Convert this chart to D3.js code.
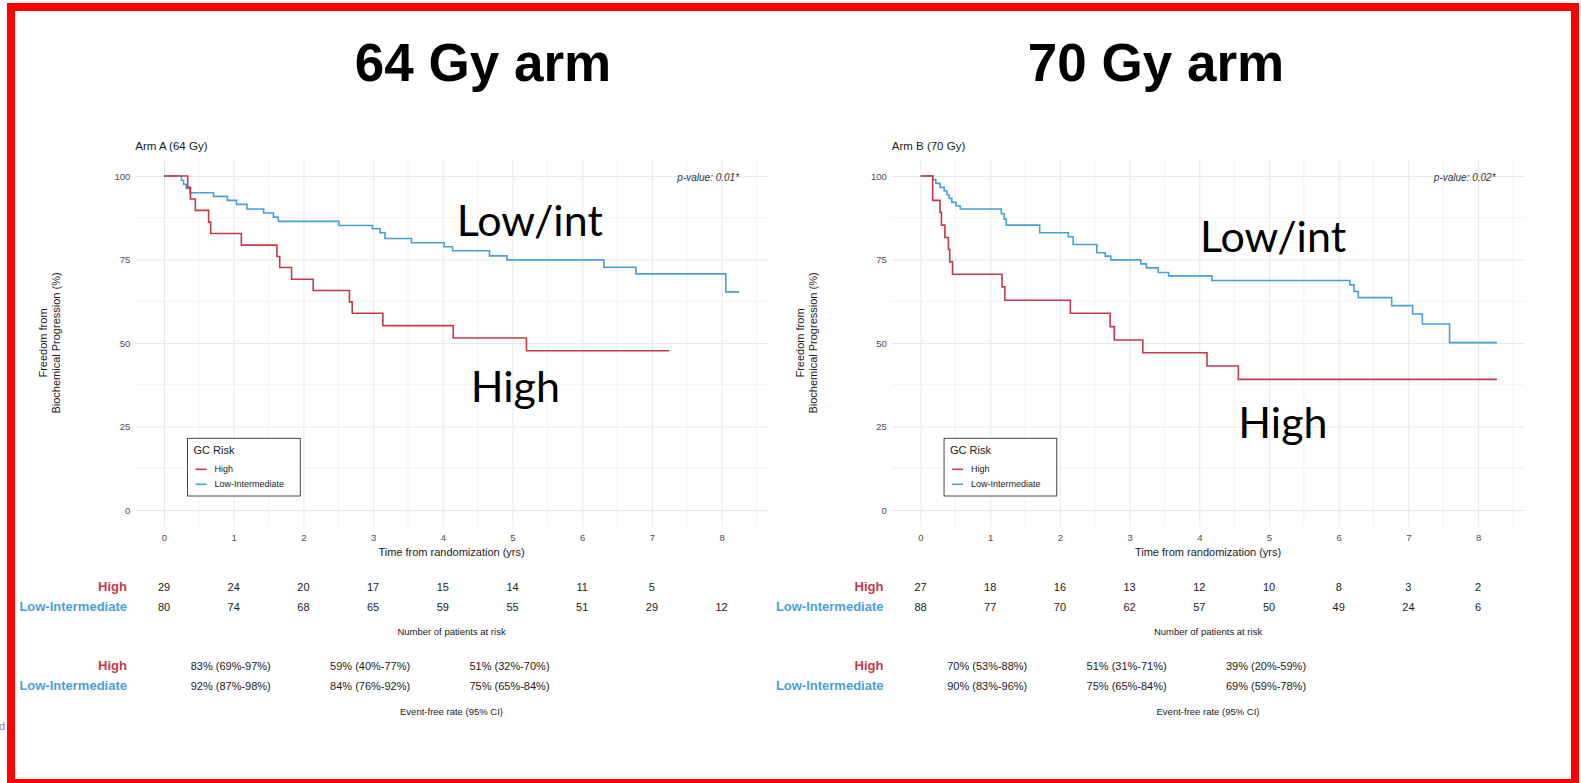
<!DOCTYPE html>
<head>
<meta charset="utf-8">
<script src="https://d3js.org/d3.v7.min.js"></script>
<style>
  body { margin: 0; background: #fff; }
  svg { display: block; }
  text { font-family: "Liberation Sans", Arial, sans-serif; }
  text.bigTitle { font-size: 53px; font-weight: 700; fill: #000; }
  text.armTitle { font-size: 11.5px; fill: #1a1a1a; }
  text.tick { font-size: 9.5px; fill: #4d4d4d; }
  text.axisTitle { font-size: 11px; fill: #1a1a1a; }
  text.pval { font-size: 10px; font-style: italic; fill: #333; }
  text.note { font-family: Lato, "Open Sans", sans-serif; font-size: 43px; fill: #000; }
  text.legTitle { font-size: 11px; fill: #1a1a1a; }
  text.legItem { font-size: 9px; fill: #1a1a1a; }
  text.tbl { font-size: 11px; fill: #1a1a1a; }
  text.tblLab { font-size: 13px; font-weight: 700; }
  text.tblCap { font-size: 9.5px; fill: #1a1a1a; }
  .grid-major { stroke: #e9e9e9; stroke-width: 1; }
  .grid-minor { stroke: #f2f2f2; stroke-width: 1; }
</style>
</head>
<body>
<div id="viz_tool"></div>
<script>
const width = 1581;
const height = 783;

const colHigh = "#c43a4c";
const colLow  = "#4a9fd6";

const timeTicks = [0, 1, 2, 3, 4, 5, 6, 7, 8];
const survTicks = [0, 25, 50, 75, 100];
const groups = ["High", "Low-Intermediate"];

// Kaplan-Meier steps: [years, % free]
const armAHigh = [[0,100],[0.34,96.6],[0.38,93.1],[0.45,89.7],[0.64,86.2],[0.67,82.8],[1.11,79.3],
  [1.62,75.9],[1.66,72.6],[1.83,69.1],[2.14,65.7],[2.66,62.3],[2.70,58.9],[3.14,55.2],
  [4.15,51.5],[5.20,47.7],[7.25,47.7]];
const armALow = [[0,100],[0.25,98.75],[0.28,97.5],[0.32,96.25],[0.37,95],[0.71,93.9],[0.91,92.7],
  [1.04,91.5],[1.19,90.1],[1.43,88.9],[1.57,87.7],[1.64,86.4],[2.51,85.2],[2.99,84.2],
  [3.10,83.0],[3.17,81.3],[3.55,80.0],[4.02,78.8],[4.14,77.6],[4.67,76.1],[4.92,74.9],
  [6.31,72.7],[6.77,70.7],[8.06,65.3],[8.25,65.3]];
const armBHigh = [[0,100],[0.175,92.7],[0.28,89.1],[0.30,85.3],[0.35,81.6],[0.40,78.0],[0.42,74.3],
  [0.46,70.6],[1.17,66.8],[1.21,62.8],[2.15,58.9],[2.72,54.9],[2.78,50.9],[3.19,47.1],
  [4.11,43.1],[4.56,39.1],[8.27,39.1]];
const armBLow = [[0,100],[0.18,98.9],[0.22,97.8],[0.28,96.6],[0.34,95.5],[0.38,94.4],[0.41,93.3],
  [0.45,92.1],[0.51,91.0],[0.57,90.1],[1.16,88.7],[1.20,87.1],[1.23,85.3],[1.71,83.0],
  [2.12,81.8],[2.19,79.5],[2.53,77.0],[2.65,76.0],[2.73,74.9],[3.16,73.7],[3.24,72.5],
  [3.41,71.1],[3.56,70.1],[4.18,68.7],[6.16,67.4],[6.22,65.4],[6.28,63.6],[6.76,61.2],
  [7.06,58.7],[7.20,55.7],[7.59,50.1],[8.27,50.1]];

// numbers at risk, one per year 0..8
const armARiskHigh = [29, 24, 20, 17, 15, 14, 11, 5, null];
const armARiskLow  = [80, 74, 68, 65, 59, 55, 51, 29, 12];
const armBRiskHigh = [27, 18, 16, 13, 12, 10, 8, 3, 2];
const armBRiskLow  = [88, 77, 70, 62, 57, 50, 49, 24, 6];

// event-free rates at 1, 3, 5 years
const efsYears = [1, 3, 5];
const armAEfsHigh = ["83% (69%-97%)", "59% (40%-77%)", "51% (32%-70%)"];
const armAEfsLow  = ["92% (87%-98%)", "84% (76%-92%)", "75% (65%-84%)"];
const armBEfsHigh = ["70% (53%-88%)", "51% (31%-71%)", "39% (20%-59%)"];
const armBEfsLow  = ["90% (83%-96%)", "75% (65%-84%)", "69% (59%-78%)"];

const svg = d3.select("#viz_tool").append("svg")
  .attr("width", width)
  .attr("height", height);

svg.append("rect")
  .attr("x", 11).attr("y", 7)
  .attr("width", 1564).attr("height", 776)
  .attr("fill", "none")
  .attr("stroke", "#ff0000")
  .attr("stroke-width", 8);

svg.append("text")
  .attr("x", -1).attr("y", 730)
  .style("font-size", "11px").style("fill", "#888")
  .text("d");

const arms = [
  { big: "64 Gy arm", bigX: 483, title: "Arm A (64 Gy)", left: 135.25, right: 767.8,
    high: armAHigh, low: armALow, pval: "p-value: 0.01*",
    riskHigh: armARiskHigh, riskLow: armARiskLow, efsHigh: armAEfsHigh, efsLow: armAEfsLow,
    lowNote: [4.2, 82], highNote: [4.4, 32.4], ytitleX: 47 },
  { big: "70 Gy arm", bigX: 1156, title: "Arm B (70 Gy)", left: 891.75, right: 1524.3,
    high: armBHigh, low: armBLow, pval: "p-value: 0.02*",
    riskHigh: armBRiskHigh, riskLow: armBRiskLow, efsHigh: armBEfsHigh, efsLow: armBEfsLow,
    lowNote: [4.01, 77.3], highNote: [4.56, 21.5], ytitleX: 804 }
];

arms.forEach(a => drawArm(a));

function drawArm(a) {
  const g = svg.append("g");

  const x = d3.scaleLinear().domain([-0.4125, 8.6625]).range([a.left, a.right]);
  const y = d3.scaleLinear().domain([-5, 105]).range([526.7, 159.3]);

  g.append("text").attr("class", "bigTitle")
    .attr("x", a.bigX).attr("y", 81)
    .style("text-anchor", "middle")
    .text(a.big);

  g.append("text").attr("class", "armTitle")
    .attr("x", a.left).attr("y", 150)
    .text(a.title);

  // grid
  const minorX = d3.range(-0.5, 9, 1).filter(v => x(v) >= a.left - 0.5 && x(v) <= a.right);
  const minorY = [12.5, 37.5, 62.5, 87.5];
  g.selectAll("line.mx").data(minorX).join("line")
    .attr("class", "grid-minor")
    .attr("x1", d => x(d)).attr("x2", d => x(d))
    .attr("y1", y(-5)).attr("y2", y(105));
  g.selectAll("line.my").data(minorY).join("line")
    .attr("class", "grid-minor")
    .attr("x1", a.left).attr("x2", a.right)
    .attr("y1", d => y(d)).attr("y2", d => y(d));

  const xAxis = d3.axisBottom(x).tickValues(timeTicks)
    .tickSize(-(y(-5) - y(105))).tickPadding(6).tickFormat(d3.format("d"));
  const gx = g.append("g")
    .attr("transform", `translate(0,${y(-5)})`)
    .call(xAxis);
  gx.select(".domain").remove();
  gx.selectAll(".tick line").attr("class", "grid-major").attr("stroke", null);
  gx.selectAll(".tick text").attr("class", "tick").attr("fill", null)
    .attr("font-size", null).attr("font-family", null)
    .attr("dy", "0.7em").attr("y", 8);

  const yAxis = d3.axisLeft(y).tickValues(survTicks)
    .tickSize(-(a.right - a.left)).tickPadding(5);
  const gy = g.append("g")
    .attr("transform", `translate(${a.left},0)`)
    .call(yAxis);
  gy.select(".domain").remove();
  gy.selectAll(".tick line").attr("class", "grid-major").attr("stroke", null);
  gy.selectAll(".tick text").attr("class", "tick").attr("fill", null)
    .attr("font-size", null).attr("font-family", null);

  // axis titles
  g.append("text").attr("class", "axisTitle")
    .attr("x", (a.left + a.right) / 2).attr("y", 555.5)
    .style("text-anchor", "middle")
    .text("Time from randomization (yrs)");

  const yt = g.append("text").attr("class", "axisTitle")
    .attr("transform", `translate(${a.ytitleX},${(y(-5) + y(105)) / 2}) rotate(-90)`)
    .style("text-anchor", "middle");
  yt.append("tspan").attr("x", 0).attr("y", 0).text("Freedom from");
  yt.append("tspan").attr("x", 0).attr("y", 13).text("Biochemical Progression (%)");

  // curves (high drawn last so it sits on top)
  const line = d3.line().x(d => x(d[0])).y(d => y(d[1])).curve(d3.curveStepAfter);
  [[a.low, colLow], [a.high, colHigh]].forEach(([pts, c]) => {
    g.append("path")
      .attr("d", line(pts))
      .attr("fill", "none")
      .attr("stroke", c)
      .attr("stroke-width", 1.6);
  });

  g.append("text").attr("class", "pval")
    .attr("x", x(8.25)).attr("y", 180.5)
    .style("text-anchor", "end")
    .text(a.pval);

  g.append("text").attr("class", "note")
    .attr("x", x(a.lowNote[0])).attr("y", y(a.lowNote[1]))
    .text("Low/int");
  g.append("text").attr("class", "note")
    .attr("x", x(a.highNote[0])).attr("y", y(a.highNote[1]))
    .text("High");

  // legend
  const lx = a.left + 52.3, ly = 438.3;
  const leg = g.append("g").attr("transform", `translate(${lx},${ly})`);
  leg.append("rect")
    .attr("width", 112.7).attr("height", 57.7)
    .attr("fill", "#fff").attr("stroke", "#333").attr("stroke-width", 0.9);
  leg.append("text").attr("class", "legTitle").attr("x", 6).attr("y", 15.5).text("GC Risk");
  groups.forEach((name, i) => {
    const yy = 31 + i * 15;
    leg.append("line")
      .attr("x1", 8).attr("x2", 19).attr("y1", yy).attr("y2", yy)
      .attr("stroke", i === 0 ? colHigh : colLow).attr("stroke-width", 1.6);
    leg.append("text").attr("class", "legItem")
      .attr("x", 27).attr("y", yy + 3.2).text(name);
  });

  // risk table and event-free rates, columns follow the time axis
  const labX = x(0) - 37;
  const tblRows = [
    { name: "High", col: colHigh, risk: a.riskHigh, efs: a.efsHigh, y1: 590.7, y2: 670 },
    { name: "Low-Intermediate", col: colLow, risk: a.riskLow, efs: a.efsLow, y1: 610.7, y2: 690 }
  ];
  tblRows.forEach(r => {
    [r.y1, r.y2].forEach(yy => {
      g.append("text").attr("class", "tblLab")
        .attr("x", labX).attr("y", yy)
        .style("fill", r.col).style("text-anchor", "end").text(r.name);
    });
    g.selectAll(null).data(timeTicks.filter((t, i) => r.risk[i] != null)).join("text")
      .attr("class", "tbl")
      .attr("x", t => x(t)).attr("y", r.y1)
      .style("text-anchor", "middle")
      .text(t => r.risk[t]);
    g.selectAll(null).data(efsYears).join("text")
      .attr("class", "tbl")
      .attr("x", t => x(t) - 3).attr("y", r.y2)
      .style("text-anchor", "middle")
      .text((t, i) => r.efs[i]);
  });
  g.append("text").attr("class", "tblCap")
    .attr("x", (a.left + a.right) / 2).attr("y", 634.5)
    .style("text-anchor", "middle")
    .text("Number of patients at risk");
  g.append("text").attr("class", "tblCap")
    .attr("x", (a.left + a.right) / 2).attr("y", 714.5)
    .style("text-anchor", "middle")
    .text("Event-free rate (95% CI)");
}
</script>
</body>
